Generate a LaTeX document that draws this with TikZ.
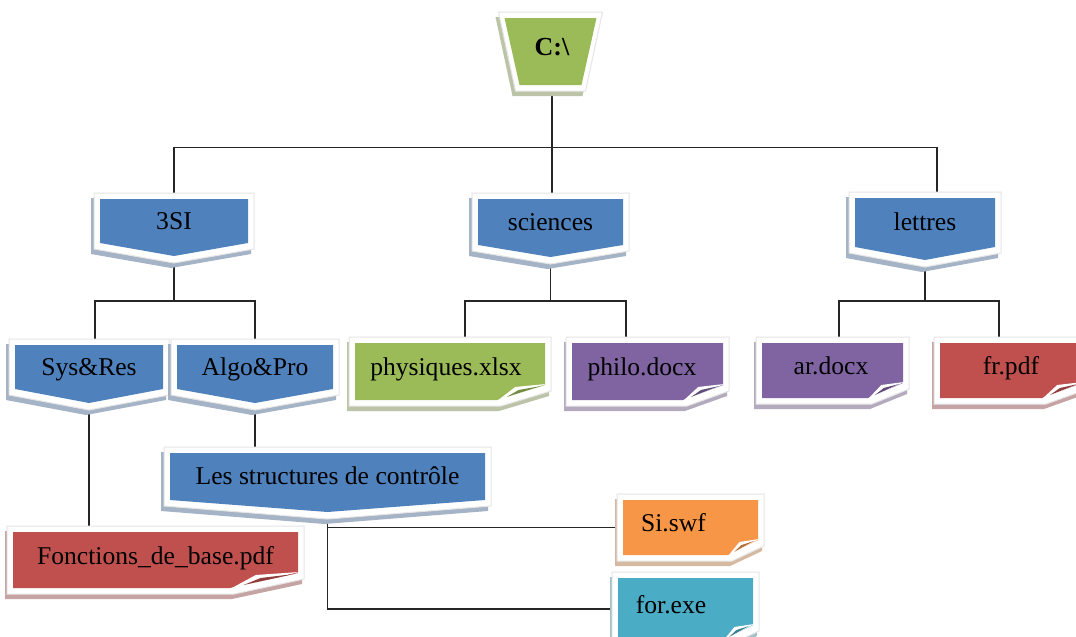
\documentclass[tikz,border=0pt]{standalone}
\usepackage{fontspec}
\setmainfont{Liberation Serif}
\usetikzlibrary{calc}
\pgfdeclarelayer{background}
\pgfsetlayers{background,main}
\definecolor{cblue}{HTML}{4F81BD}
\definecolor{cgreen}{HTML}{9BBB59}
\definecolor{cpurple}{HTML}{8064A2}
\definecolor{cred}{HTML}{C0504D}
\definecolor{corange}{HTML}{F79646}
\definecolor{ccyan}{HTML}{4BACC6}
\tikzset{
  chevlbl/.style={font=\fontsize{25.6}{28}\selectfont, inner sep=0pt, text height=18pt, text depth=2pt},
  notelbl/.style={font=\fontsize{25.6}{28}\selectfont, inner sep=0pt, text height=14pt, text depth=6pt},
  rootlbl/.style={font=\bfseries\fontsize{26}{28}\selectfont, inner sep=0pt},
  conn/.style={draw=black!85, line width=1.3pt},
  frame/.style={fill=white, draw=black!10, line width=1pt},
}
% chevron: name, x1, x2, ytop, yside, ytip, text
\newcommand\chevbox[7]{%
  \pgfmathsetmacro\chvcx{(#2+#3)/2}%
  \fill[cblue!50!gray!60!white, shift={(-3,5)}] (#2-6,#4-6) -- (#3+6,#4-6) -- (#3+6,#5+6) -- (\chvcx,#6+7) -- (#2-6,#5+6) -- cycle;
  \filldraw[frame] (#2-6,#4-6) -- (#3+6,#4-6) -- (#3+6,#5+6) -- (\chvcx,#6+7) -- (#2-6,#5+6) -- cycle;
  \fill[cblue] (#2,#4) -- (#3,#4) -- (#3,#5) -- (\chvcx,#6) -- (#2,#5) -- cycle;
  \node[chevlbl, minimum width={(#3-#2)*1pt}, minimum height={(#5-#4)*1pt}] (#1) at (\chvcx,{(#4+#5)/2}) {#7};
  \coordinate (#1-tip) at (\chvcx,#6+7);
}
% note: name, x1, y1, x2, y2, colour, text, fold width, text shift
\newcommand\notebox[9]{%
  \fill[#6!50!gray!60!white, shift={(-2,5)}] (#2-6,#3-6) -- (#4+6,#3-6) -- (#4+6,#5-9) -- (#4-#8+4,#5+6) -- (#2-6,#5+6) -- cycle;
  \filldraw[frame] (#2-6,#3-6) -- (#4+6,#3-6) -- (#4+6,#5-9) -- (#4-#8+4,#5+6) -- (#2-6,#5+6) -- cycle;
  \fill[#6] (#2,#3) -- (#4,#3) -- (#4,#5-15) -- (#4-#8,#5) -- (#2,#5) -- cycle;
  \fill[white] (#4-#8,#5+1) -- ({#4-0.62*#8},#5-13) -- (#4+1,#5-16) -- cycle;
  \fill[#6!75!black] ({#4-0.55*#8},#5-10) -- (#4-4,#5-14) -- ({#4-0.8*#8},#5-3) -- cycle;
  \node[notelbl, minimum width={(#4-#2)*1pt}, minimum height={(#5-#3)*1pt}] (#1) at ({(#2+#4)/2},{(#3+#5)/2}) {#7\hspace*{#9pt}};
}
\begin{document}
\begin{tikzpicture}[x=1pt,y=-1pt]
\useasboundingbox (0,0) rectangle (1076,637);
\begin{pgfonlayer}{background}
  \fill[white] (0,0) rectangle (1076,637);
\end{pgfonlayer}
% root
\fill[cgreen!50!gray!60!white, shift={(-3,5)}] (498.5,12) -- (602.5,12) -- (585.5,91) -- (515.5,91) -- cycle;
\filldraw[frame] (498.5,12) -- (602.5,12) -- (585.5,91) -- (515.5,91) -- cycle;
\fill[cgreen] (504.5,18) -- (596.5,18) -- (581.5,85) -- (519.5,85) -- cycle;
\node[rootlbl] (root) at (552,47) {C:\textbackslash};
% level 1
\chevbox{si3}{100}{248}{199}{243}{256}{3SI}
\chevbox{sciences}{478}{623}{199}{245}{257}{sciences}
\chevbox{lettres}{855}{995}{198}{247}{260}{lettres}
% level 2
\chevbox{sysres}{15}{163}{345}{389}{403}{Sys\&Res}
\chevbox{algo}{177}{333}{345}{389}{403}{Algo\&Pro}
\notebox{phys}{355}{343}{545}{400}{cgreen}{physiques.xlsx}{48}{8}
\notebox{philo}{572}{343}{723}{400}{cpurple}{philo.docx}{40}{11}
\notebox{ar}{762}{343}{903}{398}{cpurple}{ar.docx}{35}{3}
\notebox{fr}{940}{343}{1082}{398}{cred}{fr.pdf}{40}{0}
% level 3
\chevbox{struct}{170}{485}{453}{500}{512}{Les structures de contrôle}
\notebox{fonct}{13}{532}{298}{588}{cred}{Fonctions\_de\_base.pdf}{68}{0}
\notebox{siswf}{623}{500}{758}{555}{corange}{Si.swf}{30}{34}
\notebox{forexe}{618}{578}{753}{640}{ccyan}{for.exe}{30}{29}
% connectors
\begin{pgfonlayer}{background}
  \draw[conn] (root) -- (root |- sciences);
  \draw[conn] (si3) -- (si3.north) -- ++(0,-51) -| ([xshift=12pt]lettres.north) -- (lettres);
  \draw[conn] (si3-tip) -- ++(0,38) -| ([xshift=6pt]sysres.north) -- ++(0,5);
  \draw[conn] (si3-tip) -- ++(0,38) -| (algo.north) -- ++(0,5);
  \draw[conn] (sciences-tip) -- ++(0,37) -| ([xshift=15pt]phys.north) -- ++(0,5);
  \draw[conn] (sciences-tip) -- ++(0,37) -| ([xshift=-21.5pt]philo.north) -- ++(0,5);
  \draw[conn] (lettres-tip) -- ++(0,34) -| ([xshift=6.5pt]ar.north) -- ++(0,5);
  \draw[conn] (lettres-tip) -- ++(0,34) -| ([xshift=-12pt]fr.north) -- ++(0,5);
  \draw[conn] (sysres-tip) -- (sysres-tip |- fonct.north);
  \draw[conn] (algo-tip) -- (algo-tip |- struct.north);
  \draw[conn] (struct-tip) |- (forexe.west);
  \draw[conn] (struct-tip |- siswf.west) -- (siswf.west);
\end{pgfonlayer}
\end{tikzpicture}
\end{document}
